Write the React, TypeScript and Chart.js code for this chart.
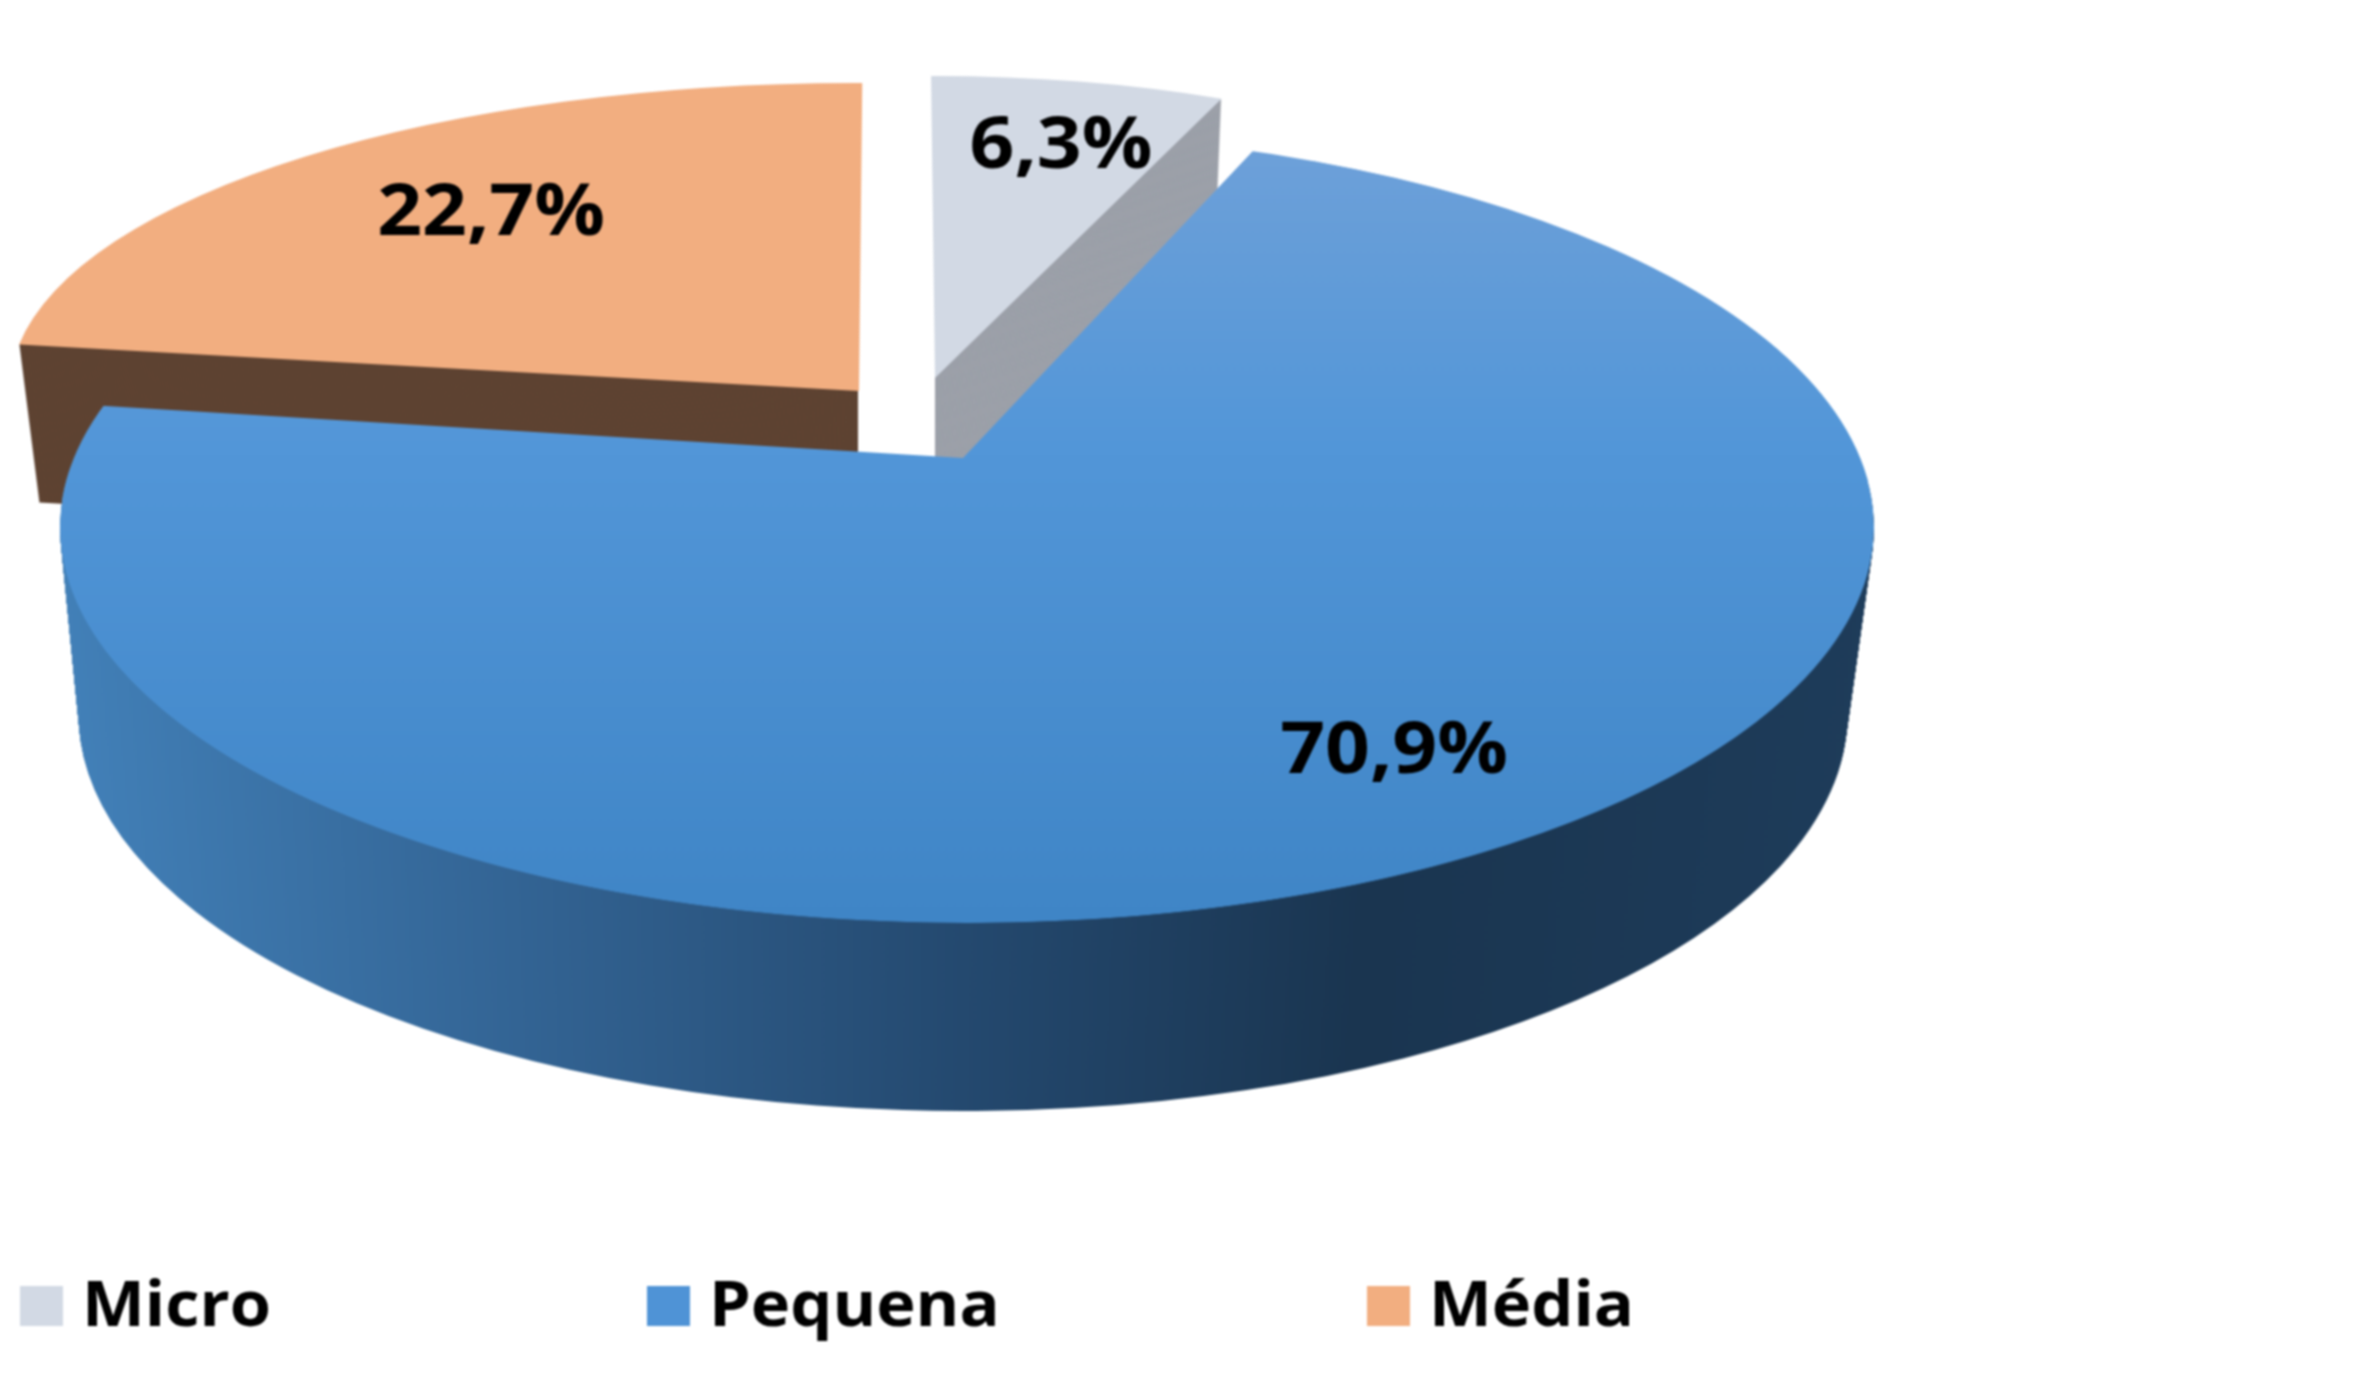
import React, { useEffect, useRef } from "react";
import { Chart, registerables } from "chart.js";

Chart.register(...registerables);

const categories = ["Micro", "Pequena", "Média"];
const shares = [6.3, 70.9, 22.7];
const shareLabels = ["6,3%", "70,9%", "22,7%"];
const sliceColors = ["#D2D9E4", "#4F93D6", "#F2AE80"];

const W = 2359;
const H = 1380;
const LABEL_FONT = 'bold 72px "Open Sans"';
const LEGEND_FONT = 'bold 62px "Open Sans"';
const LABEL_STRETCH = 1.09;
const LEGEND_STRETCH = 1.075;

// Projection of each slice on the page (ellipse centre, radii, shear, extrusion)
const projection = [
  { cx: 935, cy: 378, rx: 752, ry: 302, sx: 0, sy: 0, depth: 125, skew: -5, wall: "#9CA0A9", label: [1061, 147], wallLeft: 935, wallRight: 9999 },
  { cx: 967, cy: 527, rx: 907, ry: 396, sx: 0, sy: 0, depth: 188, skew: -4, wall: "", label: [1394, 752], wallLeft: 0, wallRight: 9999 },
  { cx: 859, cy: 391, rx: 849, ry: 308, sx: -0.025, sy: 0.005, depth: 158, skew: 20, wall: "#5E4332", label: [491, 214], wallLeft: 0, wallRight: 858 },
];
const APEX_SHIFT = { x: -4, y: -69 };
const legendSwatchX = [20, 647, 1367];

function place(ctx: any, el: any, p: any, dx: number, dy: number, mul: number) {
  ctx.translate(p.cx + dx, p.cy + dy);
  ctx.transform(1, p.sy, p.sx, 1, 0, 0);
  ctx.scale((p.rx * mul) / el.outerRadius, p.ry / el.outerRadius);
  ctx.translate(-el.x, -el.y);
}

function drawArc(ctx: any, el: any, fill: any) {
  const saved = el.options;
  el.options = Object.assign(Object.create(saved), { backgroundColor: fill, borderWidth: 0, offset: 0, spacing: 0 });
  el.draw(ctx);
  el.options = saved;
}

function extrude(ctx: any, el: any, p: any, fill: any, endMul: number) {
  ctx.save();
  ctx.beginPath();
  ctx.rect(p.wallLeft, 0, p.wallRight - p.wallLeft, H);
  ctx.clip();
  for (let d = p.depth; d >= 1; d -= 1) {
    const t = d / p.depth;
    ctx.save();
    place(ctx, el, p, p.skew * t, d, 1 - (1 - endMul) * t);
    drawArc(ctx, el, fill);
    ctx.restore();
  }
  ctx.restore();
}

function stretchedText(ctx: any, text: string, x: number, y: number, k: number) {
  ctx.save();
  ctx.translate(x, y);
  ctx.scale(k, 1);
  ctx.fillText(text, 0, 0);
  ctx.restore();
}

const pie3d = {
  id: "pie3d",
  beforeDatasetsDraw(chart: any) {
    const ctx = chart.ctx;
    const arcs = chart.getDatasetMeta(0).data;
    const [micro, pequena, media] = arcs;
    const pp = projection[1];
    const R = pequena.outerRadius;

    extrude(ctx, media, projection[2], projection[2].wall, 1);
    extrude(ctx, micro, projection[0], projection[0].wall, 1);

    ctx.save();
    place(ctx, media, projection[2], 0, 0, 1);
    drawArc(ctx, media, sliceColors[2]);
    ctx.restore();
    ctx.save();
    place(ctx, micro, projection[0], 0, 0, 1);
    drawArc(ctx, micro, sliceColors[0]);
    ctx.restore();

    // side wall of the large slice
    const wall = ctx.createLinearGradient(pequena.x - R, 0, pequena.x + R, 0);
    wall.addColorStop(0, "#4280B8");
    wall.addColorStop(0.25, "#336494");
    wall.addColorStop(0.5, "#24496F");
    wall.addColorStop(0.72, "#1A3550");
    wall.addColorStop(1, "#1E3C5A");
    extrude(ctx, pequena, pp, wall, 0.975);

    // top face: true outline, apex displaced towards the back as in perspective
    const topFill = (dy: number) => {
      const toCircle = (y: number) => pequena.y + ((y - (pp.cy + dy)) * R) / pp.ry;
      const g = ctx.createLinearGradient(0, toCircle(130), 0, toCircle(926));
      g.addColorStop(0, "#6FA1D9");
      g.addColorStop(0.4, "#5296D8");
      g.addColorStop(1, "#3F85C6");
      return g;
    };
    ctx.save();
    ctx.save();
    place(ctx, pequena, pp, 0, 0, 1);
    ctx.beginPath();
    ctx.arc(pequena.x, pequena.y, R, 0, Math.PI * 2);
    ctx.restore();
    ctx.clip();
    ctx.save();
    place(ctx, pequena, pp, 0, 0, 1);
    drawArc(ctx, pequena, topFill(0));
    ctx.restore();
    ctx.save();
    place(ctx, pequena, pp, APEX_SHIFT.x, APEX_SHIFT.y, 1);
    drawArc(ctx, pequena, topFill(APEX_SHIFT.y));
    ctx.restore();
    ctx.restore();
    return false;
  },
  afterDraw(chart: any) {
    const ctx = chart.ctx;
    ctx.save();
    ctx.fillStyle = "#000";
    ctx.textAlign = "center";
    ctx.textBaseline = "middle";
    ctx.font = LABEL_FONT;
    shareLabels.forEach((t, i) => stretchedText(ctx, t, projection[i].label[0], projection[i].label[1], LABEL_STRETCH));
    ctx.textAlign = "left";
    ctx.font = LEGEND_FONT;
    categories.forEach((name, i) => {
      const x = legendSwatchX[i];
      ctx.fillStyle = sliceColors[i];
      ctx.fillRect(x, 1286, 43, 40);
      ctx.fillStyle = "#000";
      stretchedText(ctx, name, x + 62, 1308, LEGEND_STRETCH);
    });
    ctx.restore();
  },
};

export default function App() {
  const ref = useRef<HTMLCanvasElement>(null);
  useEffect(() => {
    const chart = new Chart(ref.current as HTMLCanvasElement, {
      type: "pie",
      data: {
        labels: categories,
        datasets: [{ data: shares, backgroundColor: sliceColors, borderWidth: 0 }],
      },
      options: {
        responsive: false,
        devicePixelRatio: 1,
        animation: false,
        rotation: -0.3,
        plugins: { legend: { display: false }, tooltip: { enabled: false }, title: { display: false } },
      },
      plugins: [pie3d],
    } as any);
    return () => chart.destroy();
  }, []);
  return (
    <div style={{ position: "fixed", left: 0, top: 0, width: W, height: H, background: "#fff" }}>
      <canvas ref={ref} width={W} height={H} style={{ display: "block", filter: "blur(0.8px)" }} />
    </div>
  );
}
